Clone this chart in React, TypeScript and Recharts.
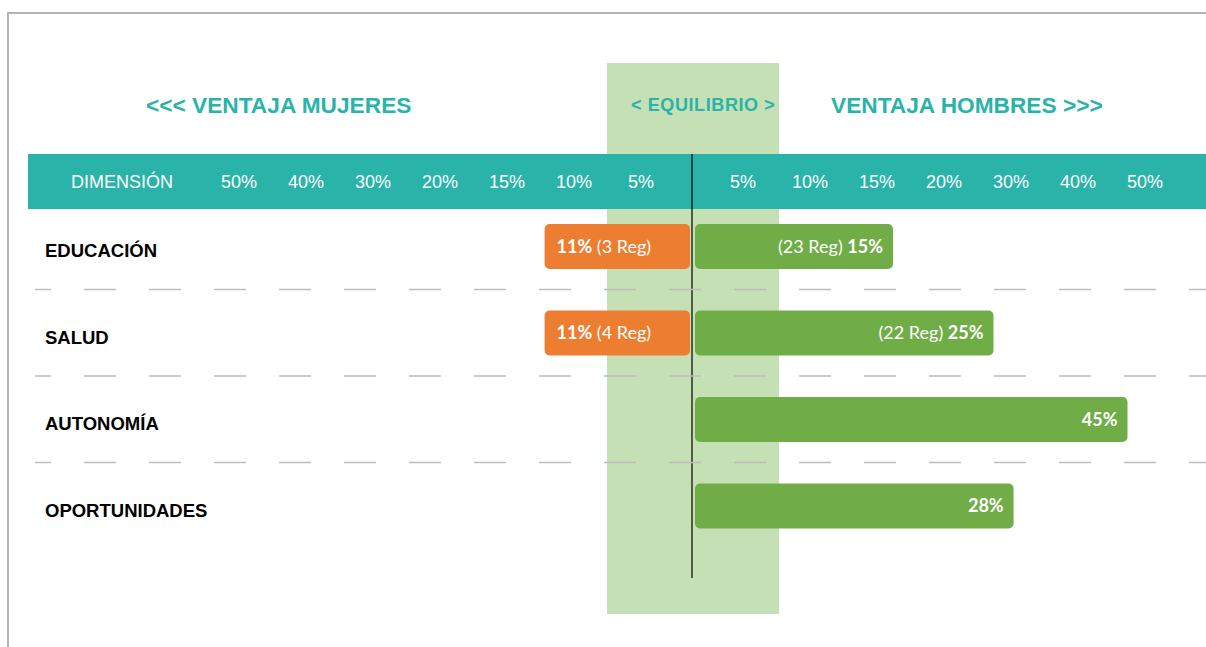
import React from 'react';
import { BarChart, Bar, XAxis, YAxis, ReferenceLine } from 'recharts';

// datos
const dimensiones = ['EDUCACIÓN', 'SALUD', 'AUTONOMÍA', 'OPORTUNIDADES'];
const mujeresPct: (number | null)[] = [11, 11, null, null];
const mujeresReg: (number | null)[] = [3, 4, null, null];
const hombresPct: (number | null)[] = [15, 25, 45, 28];
const hombresReg: (number | null)[] = [23, 22, null, null];
const escalaPct = [5, 10, 15, 20, 30, 40, 50];

const W = 1206;
const H = 647;
const TEAL = '#29b3a9';
const ORANGE = '#ed7d31';
const GREEN = '#70ad47';
const BAND = '#c5e0b4';
const ARIAL = '"Liberation Sans", Arial, sans-serif';
const CALIBRI = 'Lato, "Open Sans", sans-serif';

const PLOT_LEFT = 35;
const ZERO_X = 692;
const UNIT = 67; // px por columna de la cabecera
const PLOT_TOP = 203;
const PLOT_BOTTOM = 549;
const AXIS_H = 30;
const ROW_AXIS_W = 1;

// escala de la cabecera: pasos de 5% hasta 20%, luego pasos de 10%
const toUnit = (p: number) => (p <= 20 ? p / 5 : 4 + (p - 20) / 10);

const data = dimensiones.map((dim, i) => ({
  dim,
  mujeres: mujeresPct[i] == null ? null : -toUnit(mujeresPct[i] as number),
  hombres: hombresPct[i] == null ? null : toUnit(hombresPct[i] as number),
  mPct: mujeresPct[i],
  mReg: mujeresReg[i],
  hPct: hombresPct[i],
  hReg: hombresReg[i],
}));

const ticks = [...escalaPct.map((p) => -toUnit(p)), ...escalaPct.map((p) => toUnit(p))];
const xDomain = [-(ZERO_X - PLOT_LEFT) / UNIT, (W - ZERO_X) / UNIT];

const HeaderTick = (props: any) => {
  const { x, y, payload } = props;
  const v = payload.value;
  const pct = escalaPct.find((p) => Math.abs(toUnit(p) - Math.abs(v)) < 1e-6);
  return (
    <text
      x={x + (v > 0 ? -16 : 16)}
      y={y - 15}
      textAnchor="middle"
      fill="#fff"
      fontFamily={ARIAL}
      fontSize={18}
    >
      {pct}%
    </text>
  );
};

const RowTick = (props: any) => {
  const { x, y, payload } = props;
  return (
    <text x={x + 10} y={y + 11} textAnchor="start" fill="#000" fontFamily={ARIAL} fontSize={18.5} fontWeight="bold">
      {payload.value}
    </text>
  );
};

const MujeresShape = (props: any) => {
  const { x, y, width, height, payload } = props;
  if (payload.mPct == null || !width) return null;
  const left = Math.min(x, x + width);
  const w = Math.abs(width);
  return (
    <g>
      <rect x={left} y={y} width={w - 2} height={height} rx={5} fill={ORANGE} />
      <text x={left + 12} y={y + height / 2 + 6} fill="#fff" fontFamily={CALIBRI} fontSize={18}>
        <tspan fontWeight="bold">{payload.mPct}%</tspan>
        {payload.mReg != null && <tspan> ({payload.mReg} Reg)</tspan>}
      </text>
    </g>
  );
};

const HombresShape = (props: any) => {
  const { x, y, width, height, payload } = props;
  if (payload.hPct == null || !width) return null;
  const left = Math.min(x, x + width);
  const w = Math.abs(width);
  return (
    <g>
      <rect x={left + 3} y={y} width={w - 3} height={height} rx={5} fill={GREEN} />
      <text x={left + w - 10} y={y + height / 2 + 6} textAnchor="end" fill="#fff" fontFamily={CALIBRI} fontSize={18}>
        {payload.hReg != null && <tspan>({payload.hReg} Reg) </tspan>}
        <tspan fontWeight="bold">{payload.hPct}%</tspan>
      </text>
    </g>
  );
};

export default function App() {
  return (
    <div style={{ position: 'absolute', left: 0, top: 0, width: W, height: H, background: '#fff' }}>
      {/* fondo: marco, franja de equilibrio, cabecera y títulos */}
      <svg width={W} height={H} style={{ position: 'absolute', left: 0, top: 0 }}>
        <path d={`M8,${H} L8,13 L${W},13`} fill="none" stroke="#b4b4b4" strokeWidth={2} />
        <rect x={607} y={63} width={172} height={551} fill={BAND} />
        <rect x={28} y={154} width={W - 28} height={55} fill={TEAL} />
        <text x={146} y={113} fill={TEAL} fontFamily={ARIAL} fontSize={22.7} fontWeight="bold">
          {'<<< VENTAJA MUJERES'}
        </text>
        <text x={631} y={111} fill={TEAL} fontFamily={ARIAL} fontSize={18} fontWeight="bold" letterSpacing={0.6}>
          {'< EQUILIBRIO >'}
        </text>
        <text x={831} y={113} fill={TEAL} fontFamily={ARIAL} fontSize={22.7} fontWeight="bold">
          {'VENTAJA HOMBRES >>>'}
        </text>
        <text x={71} y={188} fill="#fff" fontFamily={ARIAL} fontSize={18}>
          DIMENSIÓN
        </text>
        <line x1={ZERO_X} x2={ZERO_X} y1={154} y2={578} stroke="#000" strokeWidth={1.2} />
      </svg>
      <div style={{ position: 'absolute', left: 0, top: 0 }}>
        <BarChart
          width={W}
          height={H}
          data={data}
          layout="vertical"
          stackOffset="sign"
          margin={{ top: PLOT_TOP - AXIS_H, right: 0, bottom: H - PLOT_BOTTOM, left: PLOT_LEFT - ROW_AXIS_W }}
        >
          <XAxis
            type="number"
            orientation="top"
            domain={xDomain}
            allowDataOverflow
            ticks={ticks}
            interval={0}
            height={AXIS_H}
            tickSize={0}
            tickMargin={0}
            tickLine={false}
            axisLine={false}
            tick={<HeaderTick />}
          />
          <YAxis
            yAxisId="rows"
            type="category"
            dataKey="dim"
            width={ROW_AXIS_W}
            interval={0}
            tickSize={0}
            tickMargin={0}
            tickLine={false}
            axisLine={false}
            tick={<RowTick />}
          />
          {/* separadores discontinuos entre filas */}
          {dimensiones.slice(1).map((d) => (
            <ReferenceLine
              key={d}
              yAxisId="rows"
              y={d}
              position="start"
              stroke="#bcbcbc"
              strokeWidth={1.5}
              strokeDasharray="32 33"
              strokeDashoffset={16}
            />
          ))}
          <Bar
            yAxisId="rows"
            dataKey="mujeres"
            stackId="s"
            barSize={45}
            shape={<MujeresShape />}
            isAnimationActive={false}
          />
          <Bar
            yAxisId="rows"
            dataKey="hombres"
            stackId="s"
            barSize={45}
            shape={<HombresShape />}
            isAnimationActive={false}
          />
        </BarChart>
      </div>
    </div>
  );
}
